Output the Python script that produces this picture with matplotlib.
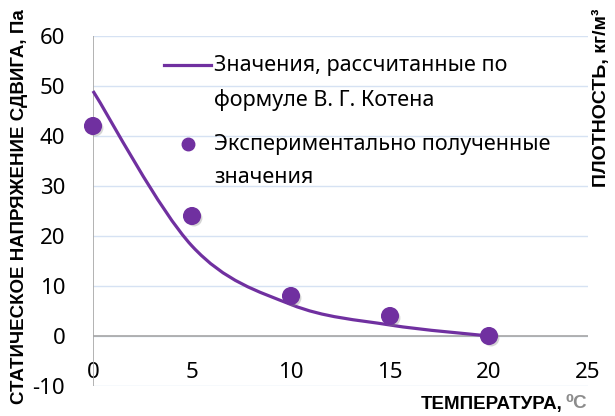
import matplotlib
matplotlib.use('Agg')
import matplotlib.pyplot as plt
import matplotlib.patheffects as pe
from matplotlib.path import Path
from matplotlib.patches import PathPatch

plt.rcParams['font.family'] = ['Noto Sans', 'DejaVu Sans']
plt.rcParams['axes.unicode_minus'] = False

# данные
temp = [0, 5, 10, 15, 20]
tau_calc = [49, 18, 6.3, 2.2, 0]      # по формуле В. Г. Котена
tau_exp = [42, 24, 8, 4, 0]           # эксперимент
yticks = [-10, 0, 10, 20, 30, 40, 50, 60]
xticks = [0, 5, 10, 15, 20, 25]

purple = '#7030A0'
bold_font = ['Liberation Sans', 'DejaVu Sans']

fig = plt.figure(figsize=(6.15, 4.16), dpi=100)
ax = fig.add_axes([93/615, 1-386/416, 495/615, 350/416])

ax.set_xlim(0, 25)
ax.set_ylim(-10, 60)
for s in ax.spines.values():
    s.set_visible(False)
ax.set_yticks(yticks)
ax.set_xticks(xticks)
ax.grid(axis='y', color='#d6e2f3', lw=1)
ax.set_axisbelow(True)
ax.axhline(0, color='#a6a6a6', lw=1.2, zorder=1)
ax.axvline(0, color='#a6a6a6', lw=1.2, zorder=1)
ax.tick_params(axis='both', length=0, labelsize=16)
ax.tick_params(axis='y', pad=20)
ax.tick_params(axis='x', pad=-17)

# сглаженная линия как в Excel (кривые Безье)
pts = list(zip(temp, tau_calc))
verts = [pts[0]]
codes = [Path.MOVETO]
for i in range(len(pts) - 1):
    p0 = pts[i-1] if i > 0 else pts[i]
    p1 = pts[i]
    p2 = pts[i+1]
    p3 = pts[i+2] if i + 2 < len(pts) else pts[i+1]
    c1 = (p1[0] + (p2[0]-p0[0])/6, p1[1] + (p2[1]-p0[1])/6)
    c2 = (p2[0] - (p3[0]-p1[0])/6, p2[1] - (p3[1]-p1[1])/6)
    verts += [c1, c2, p2]
    codes += [Path.CURVE4]*3
ax.add_patch(PathPatch(Path(verts, codes), fc='none', ec=purple, lw=2.3,
                       transform=ax.transData, zorder=3, clip_on=False))

shadow = [pe.SimplePatchShadow(offset=(1.5, -1.5), shadow_rgbFace='#888888', alpha=0.35), pe.Normal()]
ax.plot(temp, tau_exp, 'o', color=purple, ms=12, zorder=4, clip_on=False,
        path_effects=shadow)

# легенда (вручную, как в Excel)
ax.plot([0.1434, 0.2384], [0.917, 0.917], color=purple, lw=2.3, transform=ax.transAxes)
ax.plot([0.192], [0.691], 'o', color=purple, ms=9, transform=ax.transAxes)
leg_lines = [('Значения, рассчитанные по', 0.917),
             ('формуле В. Г. Котена', 0.817),
             ('Экспериментально полученные', 0.691),
             ('значения', 0.597)]
for txt, yy in leg_lines:
    ax.text(0.2444, yy, txt, transform=ax.transAxes, fontsize=15.5,
            ha='left', va='center')

fig.text(20/615, 1-207/416, 'СТАТИЧЕСКОЕ НАПРЯЖЕНИЕ СДВИГА, Па', rotation=90,
         ha='center', va='center', fontsize=13.5, fontweight='bold', family=bold_font)
fig.text(563/615, 1-404/416, 'ТЕМПЕРАТУРА,', ha='right', va='center',
         fontsize=13.5, fontweight='bold', family=bold_font)
fig.text(566/615, 1-404/416, '⁰С', ha='left', va='center',
         fontsize=13.5, fontweight='bold', color='#8c8c8c', family=bold_font)
fig.text(601/615, 1-98/416, 'ПЛОТНОСТЬ, кг/м³', rotation=90,
         ha='center', va='center', fontsize=14, fontweight='bold', family=bold_font)

fig.savefig('out.png', dpi=100)
